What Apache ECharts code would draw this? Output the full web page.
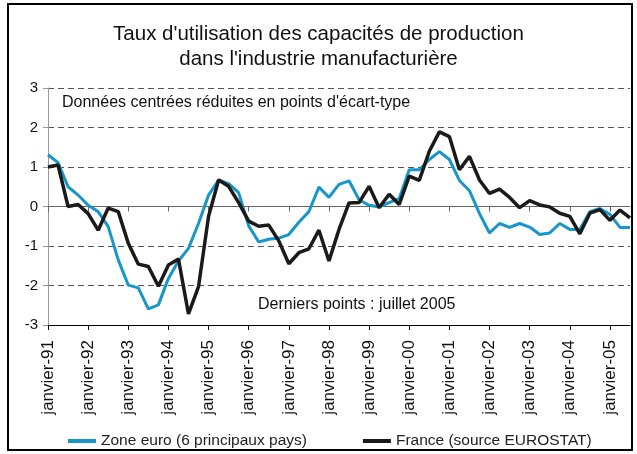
<!DOCTYPE html>
<html>
<head>
<meta charset="utf-8">
<script src="https://cdn.jsdelivr.net/npm/echarts@6/dist/echarts.min.js"></script>
<style>
html,body{margin:0;padding:0;background:#fff;}
#chart{width:637px;height:454px;}
</style>
</head>
<body>
<div id="chart"></div>
<script>
// Data
const years = ['91','92','93','94','95','96','97','98','99','00','01','02','03','04','05'];
const months = ['janvier','avril','juillet','octobre'];
const lastMonthCount = 3; // 2005: janvier, avril, juillet
const categories = [];
years.forEach(function(y, yi){
  const n = (yi === years.length - 1) ? lastMonthCount : 4;
  for (let m = 0; m < n; m++) categories.push(months[m] + '-' + y);
});

const zoneEuro = [
  1.31, 1.11, 0.50, 0.29, 0.03, -0.13, -0.51, -1.35,
  -1.99, -2.06, -2.59, -2.49, -1.82, -1.38, -1.06, -0.43,
  0.29, 0.67, 0.58, 0.35, -0.49, -0.90, -0.83, -0.80,
  -0.71, -0.40, -0.13, 0.49, 0.23, 0.56, 0.65, 0.17,
  0.03, -0.01, 0.10, 0.20, 0.93, 0.93, 1.19, 1.39,
  1.19, 0.66, 0.40, -0.18, -0.67, -0.43, -0.53, -0.43,
  -0.52, -0.71, -0.67, -0.43, -0.58, -0.58, -0.13, -0.05,
  -0.20, -0.53, -0.53
];
const france = [
  1.00, 1.05, 0.00, 0.05, -0.18, -0.60, -0.04, -0.13,
  -0.93, -1.46, -1.52, -2.02, -1.48, -1.33, -2.72, -2.03,
  -0.25, 0.67, 0.51, 0.10, -0.37, -0.50, -0.47, -0.87,
  -1.45, -1.17, -1.07, -0.60, -1.38, -0.58, 0.09, 0.10,
  0.51, -0.03, 0.31, 0.05, 0.77, 0.66, 1.40, 1.89,
  1.77, 0.93, 1.27, 0.67, 0.33, 0.44, 0.23, -0.03,
  0.15, 0.04, -0.01, -0.17, -0.25, -0.69, -0.17, -0.08,
  -0.35, -0.09, -0.29
];
const seriesNames = ['Zone euro (6 principaux pays)', 'France (source EUROSTAT)'];
const titleLines = ["Taux d'utilisation des capacités de production", "dans l'industrie manufacturière"];
const noteTop = "Données centrées réduites en points d'écart-type";
const noteBottom = "Derniers points : juillet 2005";

const FONT = "'Liberation Sans', Arial, sans-serif";
const chart = echarts.init(document.getElementById('chart'), null, {renderer: 'canvas'});

chart.setOption({
  animation: false,
  backgroundColor: '#fff',
  textStyle: {fontFamily: FONT},
  title: {
    text: titleLines.join('\n'),
    left: 'center',
    top: 17,
    textStyle: {fontFamily: FONT, fontSize: 20.5, fontWeight: 'normal', color: '#111', lineHeight: 25}
  },
  grid: {left: 48, right: 7, top: 88, bottom: 129, containLabel: false},
  legend: {
    left: 63,
    top: 428,
    icon: 'rect',
    itemWidth: 28,
    itemHeight: 4,
    itemGap: 56,
    itemStyle: {borderWidth: 0},
    textStyle: {fontFamily: FONT, fontSize: 15.5, color: '#222'},
    data: seriesNames
  },
  xAxis: [{
    type: 'category',
    data: categories,
    boundaryGap: false,
    position: 'bottom',
    axisLine: {onZero: false, lineStyle: {color: '#000', width: 1}},
    axisTick: {show: true, interval: 3, length: 5, lineStyle: {color: '#000'}},
    axisLabel: {interval: 3, rotate: 90, fontSize: 17, color: '#111', margin: 15, fontFamily: FONT},
    splitLine: {show: false}
  }, {
    type: 'category',
    data: categories,
    boundaryGap: false,
    position: 'bottom',
    axisLine: {onZero: true, lineStyle: {color: '#666', width: 1}},
    axisTick: {show: true, interval: 3, length: 5, lineStyle: {color: '#666'}},
    axisLabel: {show: false},
    splitLine: {show: false}
  }],
  yAxis: {
    type: 'value',
    min: -3, max: 3, interval: 1,
    axisLine: {show: true, lineStyle: {color: '#999'}},
    axisTick: {show: true, length: 5, lineStyle: {color: '#999'}},
    axisLabel: {fontSize: 15, color: '#111', margin: 10, fontFamily: FONT},
    splitLine: {show: true, lineStyle: {color: '#555', type: [6, 4], width: 1}}
  },
  graphic: [
    {type: 'rect', shape: {x: 8, y: 4, width: 624, height: 446}, style: {fill: 'none', stroke: '#000', lineWidth: 2}, z: 100},
    {type: 'text', left: 62, top: 95, style: {text: noteTop, fontFamily: FONT, fontSize: 16, fill: '#111'}, z: 100},
    {type: 'text', left: 258, top: 297, style: {text: noteBottom, fontFamily: FONT, fontSize: 16, fill: '#111'}, z: 100}
  ],
  series: [{
    name: seriesNames[0],
    type: 'line',
    xAxisIndex: 0,
    data: zoneEuro,
    showSymbol: false,
    symbol: 'none',
    lineStyle: {color: '#1896CC', width: 3},
    itemStyle: {color: '#1896CC'},
    z: 3
  }, {
    name: seriesNames[1],
    type: 'line',
    xAxisIndex: 0,
    data: france,
    showSymbol: false,
    symbol: 'none',
    lineStyle: {color: '#1a1a1a', width: 3.5},
    itemStyle: {color: '#1a1a1a'},
    z: 4
  }]
});
</script>
</body>
</html>
